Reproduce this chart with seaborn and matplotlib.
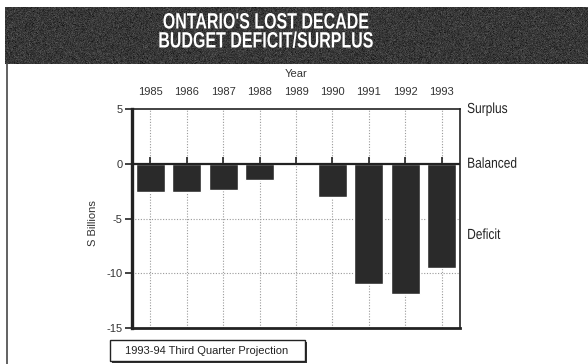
import numpy as np
import pandas as pd
import matplotlib
matplotlib.use("Agg")
import matplotlib.pyplot as plt
from matplotlib.patches import Rectangle
from matplotlib.transforms import Affine2D
from matplotlib import patheffects
import seaborn as sns

years = ["1985", "1986", "1987", "1988", "1989", "1990", "1991", "1992", "1993"]
balance = [-2.6, -2.6, -2.4, -1.5, 0.0, -3.0, -11.0, -11.9, -9.5]
y_ticks = [5, 0, -5, -10, -15]
side_labels = ["Surplus", "Balanced", "Deficit"]
side_values = [5, 0, -6.5]

sns.set_theme(style="white")
plt.rcParams["font.family"] = ["Liberation Sans", "DejaVu Sans"]


class Squeeze(patheffects.AbstractPathEffect):
    """Draw text glyphs horizontally condensed (newspaper-style narrow face)."""

    def __init__(self, sx, anchor="center"):
        super().__init__()
        self.sx = sx
        self.anchor = anchor

    def draw_path(self, renderer, gc, tpath, affine, rgbFace=None):
        ext = tpath.get_extents()
        cx = ext.x0 if self.anchor == "left" else (ext.x0 + ext.x1) / 2
        t = Affine2D().translate(-cx, 0).scale(self.sx, 1).translate(cx, 0) + affine
        renderer.draw_path(gc, tpath, t, rgbFace)


df = pd.DataFrame({"Year": years, "Balance": balance})

W, H = 588, 364
fig = plt.figure(figsize=(W / 100, H / 100), dpi=100)
fig.patch.set_facecolor("white")


def fx(px):
    return px / W


def fy(py):
    return 1 - py / H


# grainy dark header band
hdr = fig.add_axes([fx(5), fy(64), fx(583), (64 - 7) / H])
rng = np.random.default_rng(7)
grain = 0.22 + 0.045 * rng.standard_normal((57, 583))
hdr.imshow(grain, cmap="gray", vmin=0, vmax=1, aspect="auto", interpolation="nearest")
hdr.set_axis_off()
for txt, ypx in [("ONTARIO'S LOST DECADE", 23), ("BUDGET DEFICIT/SURPLUS", 42)]:
    fig.text(fx(266), fy(ypx), txt, color="white", fontsize=16, fontweight="bold",
             ha="center", va="center", path_effects=[Squeeze(0.72)])

# left border of the panel
fig.add_artist(plt.Line2D([fx(6.5), fx(6.5)], [fy(64), 0], color="#555555", lw=1.3))

ax = fig.add_axes([fx(132), fy(328), fx(460 - 132), (328 - 109) / H])
sns.barplot(data=df, x="Year", y="Balance", color="#2a2a2a", width=0.8,
            saturation=1, ax=ax, zorder=3)
ax.set_ylim(-15, 5)
ax.set_xlim(-0.5, len(years) - 0.5)
ax.set_yticks(y_ticks)
ax.set_yticklabels([str(v) for v in y_ticks])

# dotted grid
for i in range(len(years)):
    ax.axvline(i, color="#9a9a9a", lw=0.8, ls=(0, (1, 1.5)), zorder=1)
for v in [-5, -10]:
    ax.axhline(v, color="#9a9a9a", lw=0.8, ls=(0, (1, 1.5)), zorder=1)
ax.axhline(0, color="#222222", lw=1.6, zorder=4)
ax.plot(range(len(years)), [0] * len(years), ls="none", marker=2, ms=5,
        mew=1.2, color="#222222", zorder=4)

ax.xaxis.tick_top()
ax.xaxis.set_label_position("top")
ax.set_xlabel("Year", fontsize=8, color="#333333", labelpad=7)
ax.set_ylabel("S Billions", fontsize=8, color="#333333")
ax.yaxis.set_label_coords(-0.105, 0.48)
ax.tick_params(axis="x", length=0, labelsize=8, labelcolor="#333333", pad=9)
ax.tick_params(axis="y", length=5, width=1.2, color="#222222", labelsize=8,
               labelcolor="#333333", pad=2, left=True)

for side, lw in [("left", 2.4), ("bottom", 2.0), ("top", 1.2), ("right", 1.2)]:
    ax.spines[side].set_visible(True)
    ax.spines[side].set_linewidth(lw)
    ax.spines[side].set_color("#222222")

for lab, val in zip(side_labels, side_values):
    ax.annotate(lab, xy=(1, val), xycoords=("axes fraction", "data"),
                xytext=(5, 0), textcoords="offset points", va="center", ha="left",
                fontsize=10.5, color="#222222", annotation_clip=False,
                path_effects=[Squeeze(0.82, anchor="left")])

# projection note box with a drop shadow
fig.add_artist(Rectangle((fx(112), fy(363)), fx(195), (363 - 342) / H,
                         facecolor="#333333", edgecolor="none"))
fig.add_artist(Rectangle((fx(110), fy(361)), fx(195), (361 - 340) / H,
                         facecolor="white", edgecolor="#222222", lw=1.0))
fig.text(fx(207), fy(350.5), "1993-94 Third Quarter Projection", fontsize=8,
         color="#222222", ha="center", va="center")

fig.savefig("out.png", dpi=100)
